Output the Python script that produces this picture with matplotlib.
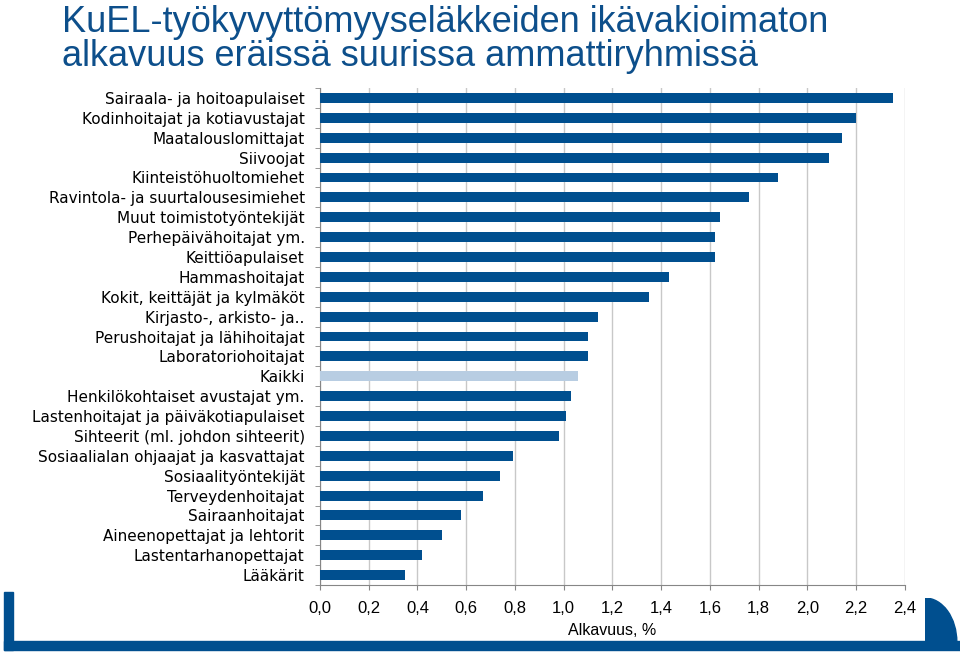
import matplotlib

matplotlib.use("Agg")
import matplotlib.pyplot as plt
from matplotlib.patches import Rectangle, Wedge
import numpy as np

TITLE_LINES = ["KuEL-työkyvyttömyyseläkkeiden ikävakioimaton",
               "alkavuus eräissä suurissa ammattiryhmissä"]

groups = [
    "Sairaala- ja hoitoapulaiset",
    "Kodinhoitajat ja kotiavustajat",
    "Maatalouslomittajat",
    "Siivoojat",
    "Kiinteistöhuoltomiehet",
    "Ravintola- ja suurtalousesimiehet",
    "Muut toimistotyöntekijät",
    "Perhepäivähoitajat ym.",
    "Keittiöapulaiset",
    "Hammashoitajat",
    "Kokit, keittäjät ja kylmäköt",
    "Kirjasto-, arkisto- ja..",
    "Perushoitajat ja lähihoitajat",
    "Laboratoriohoitajat",
    "Kaikki",
    "Henkilökohtaiset avustajat ym.",
    "Lastenhoitajat ja päiväkotiapulaiset",
    "Sihteerit (ml. johdon sihteerit)",
    "Sosiaalialan ohjaajat ja kasvattajat",
    "Sosiaalityöntekijät",
    "Terveydenhoitajat",
    "Sairaanhoitajat",
    "Aineenopettajat ja lehtorit",
    "Lastentarhanopettajat",
    "Lääkärit",
]
rates = [2.35, 2.20, 2.14, 2.09, 1.88, 1.76, 1.64, 1.62, 1.62, 1.43, 1.35, 1.14,
         1.10, 1.10, 1.06, 1.03, 1.01, 0.98, 0.79, 0.74, 0.67, 0.58, 0.50, 0.42, 0.35]
x_ticks = [0.0, 0.2, 0.4, 0.6, 0.8, 1.0, 1.2, 1.4, 1.6, 1.8, 2.0, 2.2, 2.4]

DARK = "#004f8f"
LIGHT = "#b8cde2"

fig = plt.figure(figsize=(9.6, 6.53), dpi=100)
ax = fig.add_axes([0.3333, 0.1041, 0.6094, 0.7611])

y = np.arange(len(groups))
colors = [LIGHT if g == "Kaikki" else DARK for g in groups]
ax.barh(y, rates, height=0.5, color=colors, zorder=3)
ax.set_ylim(len(groups) - 0.5, -0.5)
ax.set_xlim(0, 2.4)

ax.set_yticks(y)
ax.set_yticklabels(groups, fontsize=11, family="DejaVu Sans")
ax.tick_params(axis="y", which="major", length=0, pad=11)
ax.set_yticks(np.arange(-0.5, len(groups), 1), minor=True)
ax.tick_params(axis="y", which="minor", length=3.5, color="#868686")

ax.set_xticks(x_ticks)
ax.set_xticklabels([f"{t:.1f}".replace(".", ",") for t in x_ticks],
                   fontsize=12, family="Liberation Sans")
ax.tick_params(axis="x", length=3.5, color="#868686", pad=8)
ax.set_xlabel("Alkavuus, %", fontsize=11.5, family="Liberation Sans", labelpad=5)

ax.grid(axis="x", color="#c8c8c8", linewidth=1, zorder=0)
for side in ("top", "right"):
    ax.spines[side].set_visible(False)
for side in ("left", "bottom"):
    ax.spines[side].set_color("#868686")

W, H = 960, 653
for line, base in zip(TITLE_LINES, [32, 66]):
    fig.text(62 / W, 1 - base / H, line, fontsize=26, color="#0d4f8b",
             va="baseline", ha="left",
             family=["Liberation Sans Narrow", "Liberation Sans"])

# blue frame decoration at the bottom
fig.patches.append(Rectangle((4 / W, 3 / H), 9 / W, 58 / H, transform=fig.transFigure,
                             color=DARK, zorder=0))
fig.patches.append(Rectangle((4 / W, 3 / H), 956 / W, 9 / H, transform=fig.transFigure,
                             color=DARK, zorder=0))
arc_ax = fig.add_axes([925 / W, 11 / H, 35 / W, 44 / H])
arc_ax.add_patch(Wedge((0, 0), 1, 0, 90, color=DARK))
arc_ax.set_xlim(0, 1.1)
arc_ax.set_ylim(0, 1)
arc_ax.axis("off")

fig.savefig("out.png", dpi=100)
